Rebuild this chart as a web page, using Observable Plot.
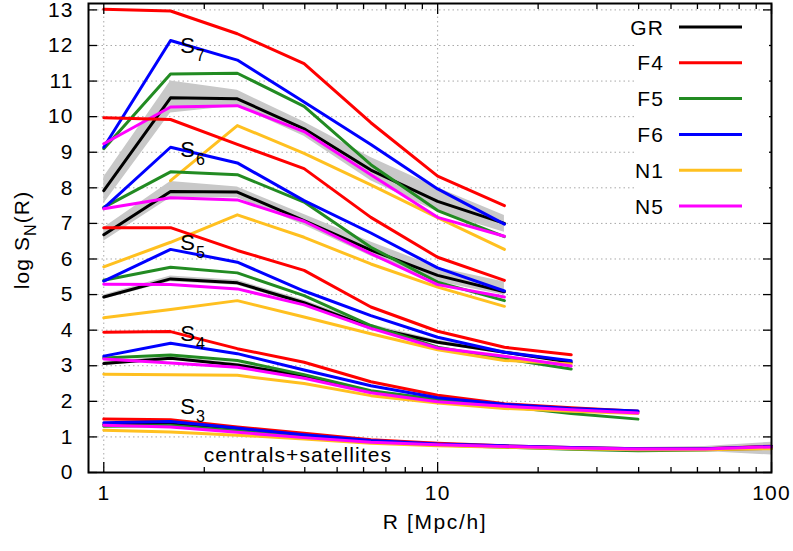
<!DOCTYPE html>
<html><head><meta charset="utf-8">
<script src="https://cdn.jsdelivr.net/npm/d3@7"></script>
<script src="https://cdn.jsdelivr.net/npm/@observablehq/plot@0.6"></script>
<style>
body{margin:0;background:#fff;}
#wrap{width:793px;height:551px;}
</style></head><body><div id="wrap"></div>
<script>
const R = [1, 1.585, 2.512, 3.981, 6.31, 10, 15.85, 25.12, 39.81, 63.1, 100];
const MODELS = ["GR", "F4", "F5", "F6", "N1", "N5"];
const COLORS = ["#000000", "#ff0000", "#228b22", "#0000ff", "#ffc020", "#ff00ff"];
const Y_TICKS = [0, 1, 2, 3, 4, 5, 6, 7, 8, 9, 10, 11, 12, 13];
const X_MAJOR = [1, 10, 100];
const X_MINOR = [2, 3, 4, 5, 6, 7, 8, 9, 20, 30, 40, 50, 60, 70, 80, 90];

// S7
const S7_GR = [7.92, 10.53, 10.5, 9.66, 8.5, 7.62, 7.0];
const S7_F4 = [13.02, 12.97, 12.33, 11.49, 9.83, 8.33, 7.5];
const S7_F5 = [9.1, 11.2, 11.22, 10.29, 8.65, 7.36, 6.63];
const S7_F6 = [9.14, 12.14, 11.59, 10.41, 9.22, 7.97, 6.98];
const S7_N1 = [null, 8.2, 9.75, 8.97, 8.08, 7.16, 6.27];
const S7_N5 = [9.24, 10.27, 10.31, 9.58, 8.37, 7.17, 6.64];
const S7_LO = [7.55, 10.1, 10.3, 9.45, 8.2, 7.32, 6.75];
const S7_HI = [8.3, 11.0, 10.74, 9.85, 8.85, 8.0, 7.22];
// S6
const S6_GR = [6.68, 7.9, 7.88, 7.08, 6.25, 5.54, 5.08];
const S6_F4 = [9.97, 9.92, 9.22, 8.54, 7.17, 6.05, 5.4];
const S6_F5 = [7.45, 8.45, 8.37, 7.6, 6.33, 5.35, 4.83];
const S6_F6 = [7.43, 9.14, 8.7, 7.64, 6.73, 5.75, 5.1];
const S6_N1 = [5.78, 6.47, 7.24, 6.61, 5.86, 5.21, 4.67];
const S6_N5 = [7.41, 7.72, 7.66, 7.06, 6.15, 5.28, 4.93];
const S6_LO = [6.5, 7.72, 7.72, 6.95, 6.08, 5.36, 4.98];
const S6_HI = [6.88, 8.18, 8.02, 7.25, 6.48, 5.76, 5.35];
// S5
const S5_GR = [4.93, 5.44, 5.33, 4.77, 4.08, 3.66, 3.38, 3.1];
const S5_F4 = [6.88, 6.88, 6.24, 5.68, 4.65, 3.97, 3.52, 3.31];
const S5_F5 = [5.4, 5.77, 5.61, 4.97, 4.13, 3.52, 3.2, 2.91];
const S5_F6 = [5.38, 6.27, 5.91, 5.1, 4.41, 3.8, 3.38, 3.14];
const S5_N1 = [4.35, 4.58, 4.83, 4.37, 3.9, 3.45, 3.15, 3.05];
const S5_N5 = [5.29, 5.28, 5.16, 4.71, 4.05, 3.5, 3.27, 2.99];
const S5_LO = [4.87, 5.36, 5.26, 4.7, 4.0, 3.6, 3.33, 3.06];
const S5_HI = [4.99, 5.52, 5.4, 4.84, 4.16, 3.72, 3.43, 3.14];
// S4
const S4_GR = [3.06, 3.21, 3.02, 2.72, 2.27, 2.04, 1.88, 1.78, 1.7];
const S4_F4 = [3.94, 3.96, 3.48, 3.1, 2.55, 2.17, 1.93, 1.82, 1.72];
const S4_F5 = [3.22, 3.3, 3.15, 2.75, 2.3, 2.05, 1.86, 1.66, 1.5];
const S4_F6 = [3.27, 3.63, 3.34, 2.88, 2.44, 2.1, 1.92, 1.8, 1.73];
const S4_N1 = [2.76, 2.75, 2.73, 2.5, 2.16, 1.95, 1.8, 1.72, 1.66];
const S4_N5 = [3.19, 3.08, 2.96, 2.65, 2.24, 1.99, 1.86, 1.76, 1.67];
const S4_LO = [3.01, 3.16, 2.97, 2.68, 2.23, 2.0, 1.84, 1.74, 1.65];
const S4_HI = [3.11, 3.26, 3.07, 2.77, 2.31, 2.08, 1.92, 1.82, 1.75];
// S3
const S3_GR = [1.35, 1.36, 1.2, 1.02, 0.86, 0.79, 0.73, 0.68, 0.65, 0.65, 0.68];
const S3_F4 = [1.5, 1.48, 1.28, 1.1, 0.92, 0.82, 0.75, 0.7, 0.67, 0.67, 0.74];
const S3_F5 = [1.3, 1.32, 1.17, 1.0, 0.85, 0.77, 0.71, 0.65, 0.61, 0.63, 0.7];
const S3_F6 = [1.4, 1.43, 1.25, 1.06, 0.9, 0.8, 0.75, 0.7, 0.67, 0.67, 0.73];
const S3_N1 = [1.19, 1.14, 1.05, 0.94, 0.82, 0.75, 0.71, 0.67, 0.64, 0.64, 0.67];
const S3_N5 = [1.33, 1.28, 1.13, 0.98, 0.85, 0.78, 0.73, 0.69, 0.66, 0.66, 0.72];
const S3_LO = [1.32, 1.33, 1.17, 0.99, 0.83, 0.76, 0.7, 0.65, 0.61, 0.59, 0.49];
const S3_HI = [1.38, 1.39, 1.23, 1.05, 0.89, 0.82, 0.76, 0.72, 0.7, 0.73, 0.85];

const GROUP_NAMES = ["7", "6", "5", "4", "3"];
const GROUP_LINES = [
  [S7_GR, S7_F4, S7_F5, S7_F6, S7_N1, S7_N5],
  [S6_GR, S6_F4, S6_F5, S6_F6, S6_N1, S6_N5],
  [S5_GR, S5_F4, S5_F5, S5_F6, S5_N1, S5_N5],
  [S4_GR, S4_F4, S4_F5, S4_F6, S4_N1, S4_N5],
  [S3_GR, S3_F4, S3_F5, S3_F6, S3_N1, S3_N5]
];
const GROUP_LO = [S7_LO, S6_LO, S5_LO, S4_LO, S3_LO];
const GROUP_HI = [S7_HI, S6_HI, S5_HI, S4_HI, S3_HI];
// label anchors (data coordinates)
const LABEL_R = 1.7;
const LABEL_Y = [11.78, 8.85, 6.24, 3.68, 1.63];
const NOTE = "centrals+satellites";
const NOTE_R = 2.0, NOTE_Y = 0.28;

const lineRows = [], bandRows = [];
GROUP_NAMES.forEach((g, gi) => {
  GROUP_LO[gi].forEach((v, i) => bandRows.push({g, R: R[i], lo: v, hi: GROUP_HI[gi][i]}));
  GROUP_LINES[gi].forEach((arr, m) => arr.forEach((v, i) => {
    if (v != null) lineRows.push({g, model: MODELS[m], key: g + MODELS[m], R: R[i], v});
  }));
});

const FONT = "'Liberation Sans', Arial, Helvetica, sans-serif";
const gridStyle = {stroke: "#a8a8a8", strokeOpacity: 1, strokeWidth: 1, strokeDasharray: "1.5,3"};

const chart = Plot.plot({
  width: 793, height: 551,
  marginLeft: 88, marginRight: 22, marginTop: 3, marginBottom: 79,
  style: {fontFamily: FONT, fontSize: "21px", background: "white", color: "black", letterSpacing: "1.1px"},
  x: {type: "log", domain: [0.9, 100]},
  y: {domain: [0, 13.18]},
  color: {domain: MODELS, range: COLORS},
  marks: [
    Plot.gridY(Y_TICKS, gridStyle),
    Plot.gridX(X_MAJOR, gridStyle),
    Plot.areaY(bandRows, {x: "R", y1: "lo", y2: "hi", z: "g", fill: "#c8c8c8"}),
    Plot.line(lineRows, {x: "R", y: "v", z: "key", stroke: "model", strokeWidth: 3}),
    Plot.axisY(Y_TICKS, {anchor: "left", tickSize: 0, tickPadding: 15, tickFormat: d => String(d), label: null}),
    Plot.axisY(Y_TICKS, {anchor: "left", tickSize: 9, dx: 9, fill: "none", strokeWidth: 1.3, label: null}),
    Plot.axisY(Y_TICKS, {anchor: "right", tickSize: 9, dx: -9, fill: "none", strokeWidth: 1.3, label: null}),
    Plot.axisX(X_MAJOR, {anchor: "bottom", tickSize: 0, tickPadding: 13, tickFormat: d => String(d), label: null}),
    Plot.axisX(X_MAJOR, {anchor: "bottom", tickSize: 10, dy: -10, fill: "none", strokeWidth: 1.3, label: null}),
    Plot.axisX(X_MINOR, {anchor: "bottom", tickSize: 5, dy: -5, fill: "none", strokeWidth: 1.3, label: null}),
    Plot.axisX(X_MAJOR, {anchor: "top", tickSize: 10, dy: 10, fill: "none", strokeWidth: 1.3, label: null}),
    Plot.axisX(X_MINOR, {anchor: "top", tickSize: 5, dy: 5, fill: "none", strokeWidth: 1.3, label: null}),
    Plot.frame({stroke: "black", strokeWidth: 2})
  ]
});
document.getElementById("wrap").appendChild(chart);

const sx = chart.scale("x"), sy = chart.scale("y");
const svg = d3.select(chart);

// group labels S_n
GROUP_NAMES.forEach((g, i) => {
  const t = svg.append("text").attr("x", sx.apply(LABEL_R)).attr("y", sy.apply(LABEL_Y[i]))
    .attr("text-anchor", "start").attr("font-size", 22).attr("fill", "black");
  t.append("tspan").text("S");
  t.append("tspan").attr("dy", 8).attr("font-size", 16).text(g);
});

// annotation
svg.append("text").attr("x", sx.apply(NOTE_R)).attr("y", sy.apply(NOTE_Y))
  .attr("text-anchor", "start").attr("font-size", 21).attr("fill", "black").text(NOTE);

// axis titles
svg.append("text").attr("x", 435).attr("y", 529).attr("text-anchor", "middle")
  .attr("font-size", 21).attr("letter-spacing", "1.6px").attr("fill", "black").text("R [Mpc/h]");
const yl = svg.append("text").attr("transform", "translate(29,240) rotate(-90)")
  .attr("text-anchor", "middle").attr("font-size", 21).attr("fill", "black");
yl.append("tspan").text("log S");
yl.append("tspan").attr("dy", 7).attr("font-size", 16).text("N");
yl.append("tspan").attr("dy", -7).text("(R)");

// legend
const lg = svg.append("g");
lg.append("rect").attr("x", 636).attr("y", 12).attr("width", 133).attr("height", 207).attr("fill", "white");
MODELS.forEach((m, i) => {
  const y = 27 + i * 35.8;
  lg.append("text").attr("x", 664).attr("y", y).attr("dy", "0.36em").attr("text-anchor", "end")
    .attr("font-size", 21).attr("fill", "black").text(m);
  lg.append("line").attr("x1", 679).attr("x2", 742).attr("y1", y).attr("y2", y)
    .attr("stroke", COLORS[i]).attr("stroke-width", 3);
});
</script>
</body></html>
